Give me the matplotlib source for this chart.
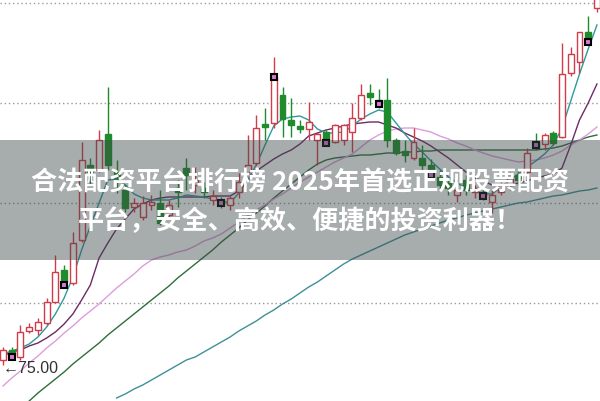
import matplotlib
matplotlib.use("Agg")
import matplotlib.pyplot as plt
from matplotlib.patches import Rectangle

# daily candles (price units), left to right
opens = [75.5, 76.5, 75.8, 78.4, 78.5, 79.2, 81.3, 84.5, 83.2, 87.5,
         95.0, 94.5, 98.1, 94.3, 92.5, 90.8, 89.8, 91.0, 91.2, 90.0,
         92.7, 94.7, 93.0, 92.7, 91.5, 91.5, 91.0, 92.3, 94.3, 95.2,
         99.1, 99.2, 102.0, 99.5, 98.9, 98.6, 97.5, 98.3, 97.3, 97.5,
         98.3, 99.7, 102.2, 101.5, 101.5, 97.5, 96.4, 95.7, 95.7, 95.0,
         93.8, 93.2, 92.0, 93.5, 92.3, 92.3, 91.3, 92.3, 93.0, 94.0,
         94.3, 97.3, 97.1, 98.2, 97.8, 104.2, 105.3, 108.3, 110.7]
closes = [76.5, 76.0, 78.3, 78.8, 79.3, 81.3, 84.3, 83.3, 87.2, 95.5,
          94.3, 97.5, 95.0, 93.7, 90.7, 91.2, 91.2, 91.3, 89.2, 91.0,
          92.3, 94.0, 93.5, 92.3, 91.9, 91.1, 91.7, 93.3, 95.0, 98.7,
          98.8, 103.8, 99.6, 99.0, 98.6, 99.3, 98.1, 97.5, 99.0, 99.0,
          99.7, 102.0, 101.8, 101.2, 97.5, 96.2, 96.0, 97.3, 95.0, 94.3,
          93.0, 92.7, 92.5, 92.5, 92.7, 91.9, 92.0, 93.0, 93.7, 93.5,
          96.2, 96.7, 98.0, 97.2, 104.1, 106.1, 108.3, 107.7, 113.5]
highs = [76.8, 76.8, 79.0, 79.2, 79.7, 81.7, 86.0, 85.0, 88.3, 97.3,
         95.7, 98.5, 102.8, 95.5, 93.0, 91.7, 91.9, 92.0, 92.5, 91.5,
         93.5, 95.7, 94.8, 93.3, 92.5, 91.8, 91.9, 94.2, 98.0, 100.0,
         100.7, 105.8, 102.8, 101.7, 99.5, 101.3, 98.3, 98.5, 99.1, 99.1,
         101.2, 103.1, 103.1, 102.6, 103.7, 97.7, 97.5, 98.7, 97.0, 95.6,
         94.5, 93.7, 93.2, 94.0, 93.0, 92.7, 92.5, 93.5, 94.3, 94.5,
         96.7, 98.2, 98.2, 98.4, 107.2, 106.8, 108.3, 109.9, 114.5]
lows = [75.0, 75.6, 75.5, 78.2, 78.0, 79.0, 81.2, 82.7, 83.0, 87.3,
        93.0, 94.3, 94.5, 92.2, 90.3, 90.3, 89.5, 90.5, 89.0, 89.7,
        90.8, 92.5, 92.2, 91.7, 91.0, 90.7, 90.5, 91.7, 94.0, 95.0,
        97.5, 98.7, 97.8, 97.8, 98.2, 97.5, 95.0, 96.9, 97.2, 97.0,
        96.3, 99.5, 101.0, 100.7, 96.8, 96.0, 95.3, 95.5, 94.3, 94.0,
        92.5, 92.0, 91.3, 92.0, 91.7, 91.5, 90.2, 92.0, 92.5, 93.0,
        93.8, 96.5, 96.5, 97.0, 97.7, 103.9, 104.2, 107.0, 110.3]

# moving averages
ma_teal = [76.1, 76.4, 76.7, 77.1, 77.8, 78.8, 80.1, 81.7, 83.8, 86.5,
           88.9, 91.2, 93.5, 93.6, 93.0, 92.1, 91.7, 91.5, 91.5, 91.5,
           91.7, 92.0, 91.9, 91.8, 91.6, 91.4, 91.2, 92.2, 93.5, 95.0,
           97.0, 98.9, 99.6, 99.8, 99.9, 99.5, 98.6, 98.2, 98.2, 98.3,
           98.9, 99.6, 100.1, 100.5, 100.3, 99.2, 98.1, 97.1, 96.3, 95.4,
           94.6, 93.8, 93.2, 92.7, 92.4, 92.1, 92.1, 92.8, 93.5, 94.1,
           94.8, 95.4, 96.1, 97.0, 98.7, 101.4, 104.1, 106.6, 109.0]
ma_purple = [75.9, 76.3, 76.5, 76.9, 77.2, 77.7, 78.3, 79.1, 80.1, 81.5,
             83.0, 85.7, 87.2, 88.6, 89.6, 90.6, 91.1, 91.5, 91.7, 91.8,
             91.8, 91.8, 91.8, 91.8, 91.9, 91.9, 91.9, 92.4, 93.4, 94.4,
             95.0, 95.6, 96.1, 96.5, 97.1, 97.9, 98.2, 98.5, 98.7, 98.9,
             99.1, 99.2, 99.3, 99.3, 99.0, 98.7, 98.2, 97.8, 97.4, 96.9,
             96.3, 95.7, 95.0, 94.3, 93.7, 93.4, 93.0, 93.0, 93.0, 93.2,
             93.4, 93.7, 93.9, 94.1, 94.7, 97.0, 99.5, 101.2, 103.1]
ma_pink = [72.9, 73.7, 74.4, 75.2, 75.9, 76.7, 77.4, 78.2, 78.9, 79.7,
           80.4, 81.1, 81.9, 82.7, 83.4, 84.1, 84.9, 85.5, 85.8, 86.0,
           86.3, 86.5, 86.9, 87.4, 87.7, 88.1, 88.7, 89.3, 89.9, 90.5,
           91.0, 91.6, 92.1, 92.7, 93.3, 93.8, 94.3, 94.8, 95.3, 95.7,
           96.1, 96.8, 97.5, 98.0, 98.4, 98.6, 98.7, 98.7, 98.5, 98.3,
           97.9, 97.6, 97.2, 96.9, 96.5, 96.2, 95.9, 95.7, 95.5, 95.3,
           95.4, 95.5, 95.7, 96.0, 96.4, 97.0, 97.5, 98.1, 98.8]
ma_green = [None, None, None, 71.4, 72.2, 72.9, 73.6, 74.3, 75.1, 75.8,
            76.5, 77.2, 78.0, 78.7, 79.4, 80.1, 80.8, 81.5, 82.2, 82.9,
            83.7, 84.4, 85.1, 85.8, 86.5, 87.3, 88.0, 88.7, 89.5, 90.2,
            90.9, 91.7, 92.4, 93.1, 93.8, 94.5, 95.1, 95.5, 95.7, 95.8,
            95.9, 96.0, 96.0, 96.1, 96.2, 96.2, 96.3, 96.3, 96.4, 96.4,
            96.5, 96.5, 96.5, 96.5, 96.5, 96.5, 96.5, 96.5, 96.5, 96.5,
            96.5, 96.5, 96.6, 96.7, 96.9, 97.2, 97.5, 97.8, 98.0]
ma_blue = [None] * 13 + [
    71.7, 72.1, 72.6, 73.0, 73.5, 74.0, 74.5,
    75.0, 75.5, 75.8, 76.3, 76.8, 77.3, 77.8, 78.4, 78.9, 79.4,
    80.0, 80.5, 81.1, 81.6, 82.2, 82.8, 83.3, 83.9, 84.5, 85.1,
    85.6, 86.0, 86.4, 86.8, 87.2, 87.6, 88.0, 88.3, 88.6, 88.9,
    89.2, 89.5, 89.7, 90.0, 90.2, 90.4, 90.6, 90.8, 91.0, 91.2,
    91.3, 91.5, 91.7, 91.9, 92.0, 92.2, 92.4, 92.5, 92.7]

# small signal boxes drawn on some candles
mark_idx = [1, 7, 25, 31, 37, 43, 49, 55, 61, 67]
mark_price = [75.8, 83.0, 91.2, 103.8, 97.2, 101.1, 94.0, 91.9, 97.0, 107.3]

grid_levels = [111.2, 101.2, 91.2, 81.2]
low_label = "←75.00"
title_lines = ["合法配资平台排行榜 2025年首选正规股票配资",
               "平台，安全、高效、便捷的投资利器！"]

RED = "#d23c4a"
GREEN = "#1e8c2c"

fig = plt.figure(figsize=(6, 4.01), dpi=100)
ax = fig.add_axes([0, 0, 1, 1])
ax.set_xlim(-0.343, 68.35)
ax.set_ylim(71.4, 111.5)
ax.axis("off")

for g in grid_levels:
    ax.axhline(g, color="#9a9a9a", lw=1.0, ls=(0, (1, 2)), zorder=1)

x = list(range(len(opens)))
ax.plot(x, ma_blue, color="#3f8f99", lw=1.0, zorder=2)
ax.plot(x, ma_green, color="#2f6e3a", lw=1.0, zorder=2)
ax.plot(x, ma_pink, color="#dc9ddc", lw=1.0, zorder=2)
ax.plot(x, ma_purple, color="#6e2a66", lw=1.0, zorder=2)
ax.plot(x, ma_teal, color="#2e9a9a", lw=1.0, zorder=2)

for i, (o, c, h, l) in enumerate(zip(opens, closes, highs, lows)):
    up = c >= o
    col = RED if up else GREEN
    ax.vlines(i, l, h, color=col, lw=1.0, zorder=3)
    bottom = min(o, c)
    height = max(abs(c - o), 0.15)
    ax.add_patch(Rectangle((i - 0.34, bottom), 0.68, height,
                           facecolor="white" if up else GREEN,
                           edgecolor=col, lw=1.0, zorder=4))

ax.plot(mark_idx, mark_price, "s", ms=5, mfc="#d77ad7", mec="black",
        mew=1.5, zorder=5)

ax.axhspan(85.5, 97.5, color="#3c4848", alpha=0.45, lw=0, zorder=6)

fig.text(0.5, 1 - 183 / 401, title_lines[0], ha="center", va="center",
         color="white", fontsize=18.8, fontweight="bold",
         family=["Noto Sans CJK SC", "DejaVu Sans"], zorder=7)
fig.text(0.5, 1 - 222 / 401, title_lines[1], ha="center", va="center",
         color="white", fontsize=18.8, fontweight="bold",
         family=["Noto Sans CJK SC", "DejaVu Sans"], zorder=7)

ax.text(0, 74.7, low_label, ha="left", va="center", color="#333333",
        fontsize=11.5, family=["Liberation Sans", "DejaVu Sans"], zorder=7)

fig.savefig("out.png", dpi=100)
